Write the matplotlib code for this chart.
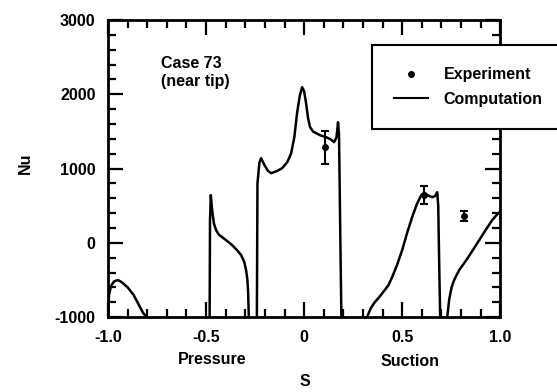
import matplotlib
matplotlib.use("Agg")
import matplotlib.pyplot as plt
from matplotlib.ticker import MultipleLocator
from matplotlib.lines import Line2D

plt.rcParams['font.family'] = ['Liberation Sans', 'DejaVu Sans']

# computed Nu along the blade surface, read piece by piece (s, Nu)
s_seg1 = [-1.0, -0.995, -0.985, -0.97, -0.95, -0.93, -0.90, -0.87, -0.84, -0.82, -0.80]
nu_seg1 = [-1000, -700, -580, -520, -500, -530, -600, -700, -850, -950, -1000]

s_seg2 = [-0.482, -0.480, -0.476, -0.469, -0.460, -0.449, -0.435, -0.418, -0.395, -0.367,
          -0.345, -0.321, -0.305, -0.296, -0.290, -0.286, -0.282]
nu_seg2 = [-1000, 300, 643, 440, 260, 171, 110, 77, 30, -31, -90, -166, -260, -367, -480, -637, -1000]

s_seg3 = [-0.241, -0.238, -0.228, -0.219, -0.205, -0.185, -0.168, -0.140, -0.112, -0.085,
          -0.066, -0.050, -0.036, -0.022, -0.010, 0.000, 0.010, 0.020, 0.030, 0.045, 0.061,
          0.085, 0.112, 0.135, 0.153, 0.165, 0.173, 0.178, 0.184, 0.190]
nu_seg3 = [-1000, 800, 1080, 1140, 1060, 970, 938, 965, 1005, 1090, 1207, 1420, 1746, 1980,
           2096, 2040, 1880, 1680, 1560, 1500, 1476, 1445, 1423, 1395, 1355, 1420, 1624, 1450,
           200, -1000]

s_seg4 = [0.321, 0.340, 0.360, 0.383, 0.410, 0.430, 0.449, 0.475, 0.500, 0.525, 0.551,
          0.575, 0.597, 0.612, 0.630, 0.653, 0.668, 0.679, 0.684, 0.689, 0.694]
nu_seg4 = [-1000, -880, -800, -731, -640, -570, -462, -290, -98, 130, 346, 520, 640, 669,
           640, 615, 630, 682, 500, -300, -1000]

s_seg5 = [0.730, 0.740, 0.752, 0.765, 0.790, 0.827, 0.860, 0.893, 0.925, 0.959, 0.980, 1.0]
nu_seg5 = [-1000, -760, -600, -502, -370, -233, -100, 36, 170, 305, 370, 420]

# experiment with error bars
s_exp = [0.107, 0.612, 0.816]
nu_exp = [1288, 642, 365]
nu_err = [220, 120, 70]

fig = plt.figure(figsize=(5.57, 3.92), dpi=100)
ax = fig.add_axes([0.194, 0.191, 0.704, 0.758])

for s, nu in [(s_seg1, nu_seg1), (s_seg2, nu_seg2), (s_seg3, nu_seg3),
              (s_seg4, nu_seg4), (s_seg5, nu_seg5)]:
    ax.plot(s, nu, color='black', lw=1.8, solid_joinstyle='round')

ax.errorbar(s_exp, nu_exp, yerr=nu_err, fmt='o', color='black', ms=4,
            elinewidth=1.5, capsize=3, capthick=1.5)

ax.set_xlim(-1.0, 1.0)
ax.set_ylim(-1000, 3000)
ax.xaxis.set_minor_locator(MultipleLocator(0.1))
ax.yaxis.set_minor_locator(MultipleLocator(200))
ax.set_xticks([-1.0, -0.5, 0.0, 0.5, 1.0])
ax.set_xticklabels(['-1.0', '-0.5', '0', '0.5', '1.0'])
ax.set_yticks([-1000, 0, 1000, 2000, 3000])
ax.set_yticklabels(['-1000', '0', '1000', '2000', '3000'])
ax.tick_params(which='both', direction='in', top=True, right=True, width=1.6, labelsize=11.5)
ax.tick_params(which='major', length=11, pad=9)
ax.tick_params(which='minor', length=6)
for lab in ax.get_xticklabels() + ax.get_yticklabels():
    lab.set_fontweight('bold')
for sp in ax.spines.values():
    sp.set_linewidth(2)

ax.text(0.135, 0.88, 'Case 73\n(near tip)', transform=ax.transAxes, fontsize=11.5,
        fontweight='bold', va='top', ha='left', linespacing=1.25)

fig.text(212 / 557, 1 - 360 / 392, 'Pressure', ha='center', va='center', fontsize=11.5, fontweight='bold')
fig.text(410 / 557, 1 - 361 / 392, 'Suction', ha='center', va='center', fontsize=11.5, fontweight='bold')
fig.text(305 / 557, 1 - 382 / 392, 'S', ha='center', va='center', fontsize=11.5, fontweight='bold')
fig.text(25 / 557, 1 - 163 / 392, 'Nu', ha='center', va='center', rotation=90, fontsize=11.5, fontweight='bold')

handles = [Line2D([], [], marker='o', ls='none', color='black', ms=4),
           Line2D([], [], color='black', lw=1.5)]
leg = fig.legend(handles, ['Experiment', 'Computation'], loc='upper left',
                 bbox_to_anchor=(372 / 557, 1 - 45 / 392), fancybox=False,
                 edgecolor='black', framealpha=1, fontsize=11.5, borderpad=1.4,
                 handlelength=2.1, labelspacing=0.6, handletextpad=1.0, borderaxespad=0)
leg.get_frame().set_linewidth(1.5)
for t in leg.get_texts():
    t.set_fontweight('bold')

fig.savefig('out.png', dpi=100)
